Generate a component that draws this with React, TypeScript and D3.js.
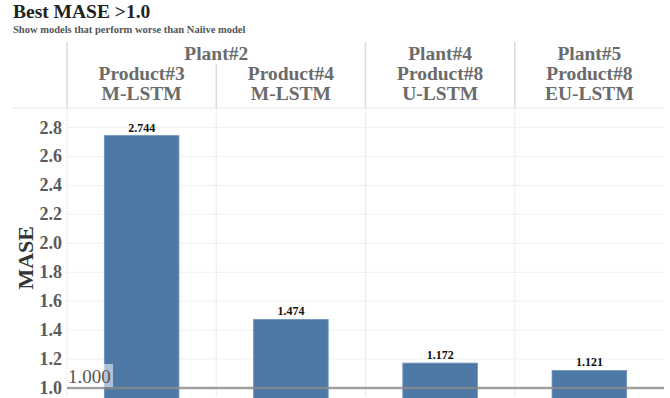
import { useEffect, useRef } from 'react'
import * as d3 from 'd3'

const plants = ['Plant#2', 'Plant#2', 'Plant#4', 'Plant#5']
const products = ['Product#3', 'Product#4', 'Product#8', 'Product#8']
const models = ['M-LSTM', 'M-LSTM', 'U-LSTM', 'EU-LSTM']
const mase = [2.744, 1.474, 1.172, 1.121]
const yTicks = [1.0, 1.2, 1.4, 1.6, 1.8, 2.0, 2.2, 2.4, 2.6, 2.8]
const refValue = 1.0

const FONT = '"Liberation Serif", "Times New Roman", serif'

export default function App() {
  const svgRef = useRef<SVGSVGElement>(null)

  useEffect(() => {
    if (!svgRef.current) return
    const W = 670
    const H = 398
    const left = 67
    const right = 664
    const plotTop = 108
    const plotBottom = H

    const svg = d3.select(svgRef.current)
    svg.selectAll('*').remove()

    const keys = mase.map((_, i) => String(i))
    const x = d3.scaleBand<string>().domain(keys).range([left, right]).padding(0)
    const y = d3.scaleLinear().domain([1.0, 2.8]).range([388, 127.5])

    // titre
    svg
      .append('text')
      .attr('x', 13)
      .attr('y', 18)
      .attr('font-family', FONT)
      .attr('font-weight', 'bold')
      .attr('font-size', '19.5px')
      .attr('fill', '#222')
      .text('Best MASE >1.0')
    svg
      .append('text')
      .attr('x', 13)
      .attr('y', 33)
      .attr('font-family', FONT)
      .attr('font-weight', 'bold')
      .attr('font-size', '10.5px')
      .attr('fill', '#555')
      .text('Show models that perform worse than Naiive model')

    // grille horizontale
    svg
      .append('g')
      .selectAll('line')
      .data(yTicks)
      .join('line')
      .attr('x1', left)
      .attr('x2', right)
      .attr('y1', (d) => y(d))
      .attr('y2', (d) => y(d))
      .attr('stroke', '#f0f0f0')
      .attr('stroke-width', 1)

    // séparateurs verticaux
    const groupStart = (i: number) => i === 0 || plants[i] !== plants[i - 1]
    keys.forEach((k, i) => {
      const xv = x(k)!
      svg
        .append('line')
        .attr('x1', xv)
        .attr('x2', xv)
        .attr('y1', groupStart(i) ? 42 : 64)
        .attr('y2', plotTop)
        .attr('stroke', '#dcdcdc')
        .attr('stroke-width', 1.5)
      svg
        .append('line')
        .attr('x1', xv)
        .attr('x2', xv)
        .attr('y1', plotTop)
        .attr('y2', plotBottom)
        .attr('stroke', '#d8d8d8')
        .attr('stroke-width', 1)
        .attr('stroke-dasharray', '1,1')
    })

    // ligne sous l'en-tête
    svg
      .append('line')
      .attr('x1', 12)
      .attr('x2', right)
      .attr('y1', plotTop)
      .attr('y2', plotTop)
      .attr('stroke', '#e6e6e6')
      .attr('stroke-width', 1)

    // en-têtes
    const header = svg
      .append('g')
      .attr('font-family', FONT)
      .attr('font-weight', 'bold')
      .attr('font-size', '19.5px')
      .attr('fill', '#6b6b6b')
      .attr('text-anchor', 'middle')

    const plantGroups = d3.groups(
      keys.map((k, i) => ({ k, plant: plants[i] })),
      (d) => d.plant
    )
    plantGroups.forEach(([plant, items]) => {
      const x0 = x(items[0].k)!
      const x1 = x(items[items.length - 1].k)! + x.bandwidth()
      header
        .append('text')
        .attr('x', (x0 + x1) / 2)
        .attr('y', 60)
        .text(plant)
    })
    keys.forEach((k, i) => {
      const cx = x(k)! + x.bandwidth() / 2
      header.append('text').attr('x', cx).attr('y', 80).text(products[i])
      header.append('text').attr('x', cx).attr('y', 100).text(models[i])
    })

    // axe Y
    svg
      .append('g')
      .attr('font-family', FONT)
      .attr('font-weight', 'bold')
      .attr('font-size', '18px')
      .attr('fill', '#5a5a5a')
      .attr('text-anchor', 'end')
      .selectAll('text')
      .data(yTicks)
      .join('text')
      .attr('x', 62)
      .attr('y', (d) => y(d) + 6)
      .text((d) => d3.format('.1f')(d))

    svg
      .append('text')
      .attr('transform', `translate(33,${y(1.9)}) rotate(-90)`)
      .attr('text-anchor', 'middle')
      .attr('font-family', FONT)
      .attr('font-weight', 'bold')
      .attr('font-size', '22px')
      .attr('fill', '#333')
      .text('MASE')

    // barres
    svg
      .append('defs')
      .append('clipPath')
      .attr('id', 'plotClip')
      .append('rect')
      .attr('x', left)
      .attr('y', plotTop)
      .attr('width', right - left)
      .attr('height', plotBottom - plotTop)

    const barW = x.bandwidth() * 0.5
    svg
      .append('g')
      .attr('clip-path', 'url(#plotClip)')
      .selectAll('rect')
      .data(mase)
      .join('rect')
      .attr('x', (_, i) => x(keys[i])! + (x.bandwidth() - barW) / 2)
      .attr('y', (d) => y(d))
      .attr('width', barW)
      .attr('height', (d) => y(0) - y(d))
      .attr('fill', '#4e79a7')
      .attr('stroke', '#6f93bd')
      .attr('stroke-width', 0.8)

    // étiquettes de valeur
    svg
      .append('g')
      .attr('font-family', FONT)
      .attr('font-weight', 'bold')
      .attr('font-size', '12px')
      .attr('fill', '#111')
      .attr('text-anchor', 'middle')
      .selectAll('text')
      .data(mase)
      .join('text')
      .attr('x', (_, i) => x(keys[i])! + x.bandwidth() / 2)
      .attr('y', (d) => y(d) - 4)
      .text((d) => d3.format('.3f')(d))

    // ligne de référence
    svg
      .append('line')
      .attr('x1', left)
      .attr('x2', right)
      .attr('y1', y(refValue))
      .attr('y2', y(refValue))
      .attr('stroke', '#8a8a8a')
      .attr('stroke-opacity', 0.8)
      .attr('stroke-width', 2.5)

    svg
      .append('rect')
      .attr('x', left)
      .attr('y', y(refValue) - 24)
      .attr('width', 46)
      .attr('height', 23)
      .attr('fill', '#fff')
      .attr('fill-opacity', 0.55)
    svg
      .append('text')
      .attr('x', left + 1)
      .attr('y', y(refValue) - 5)
      .attr('font-family', FONT)
      .attr('font-size', '19px')
      .attr('fill', '#555')
      .text(d3.format('.3f')(refValue))

    svg.attr('width', W).attr('height', H)
  }, [])

  return (
    <svg
      ref={svgRef}
      width={670}
      height={398}
      style={{ position: 'absolute', top: 0, left: 0, background: '#fff' }}
    />
  )
}
